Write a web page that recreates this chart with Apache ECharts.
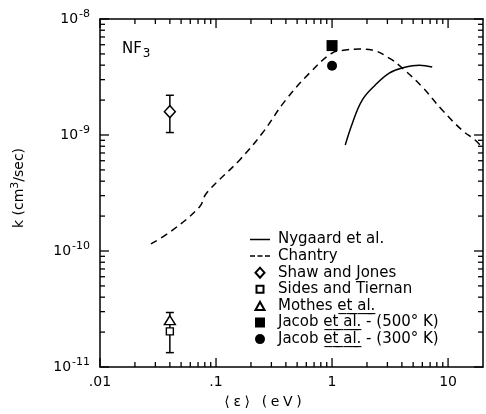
<!DOCTYPE html>
<html>
<head>
<meta charset="utf-8">
<script src="https://cdn.jsdelivr.net/npm/echarts@6/dist/echarts.min.js"></script>
<style>
  html, body { margin: 0; padding: 0; background: #fff; }
  #main { width: 486px; height: 414px; }
</style>
</head>
<body>
<div id="main"></div>
<script>
// Nygaard et al. (solid curve)
var nygaardX = [1.30, 1.50, 1.82, 2.36, 3.11, 4.03, 5.64, 7.3];
var nygaardY = [8.2e-10, 1.27e-9, 2.0e-9, 2.7e-9, 3.42e-9, 3.78e-9, 4.0e-9, 3.86e-9];

// Chantry (dashed curve)
var chantryX = [0.0275, 0.0425, 0.072, 0.083, 0.16, 0.251, 0.398, 0.64, 1.0, 1.30, 1.72, 2.22, 3.11, 4.03, 5.98, 8.9, 13.2, 17.1, 20];
var chantryY = [1.15e-10, 1.52e-10, 2.4e-10, 3.16e-10, 6.1e-10, 1.04e-9, 2.0e-9, 3.42e-9, 5.09e-9, 5.4e-9, 5.5e-9, 5.4e-9, 4.6e-9, 3.78e-9, 2.6e-9, 1.64e-9, 1.1e-9, 9.05e-10, 7.7e-10];

// measured points
var shawX = [0.04], shawY = [1.59e-9];
var sidesX = [0.04], sidesY = [2.03e-11];
var mothesX = [0.04], mothesY = [2.53e-11];
var jacob500X = [1.0], jacob500Y = [5.9e-9];
var jacob300X = [1.0], jacob300Y = [3.95e-9];

// error bars: x, low, high
var errX = [0.04, 0.04];
var errLow = [1.05e-9, 1.33e-11];
var errHigh = [2.2e-9, 2.95e-11];

// axis ranges and tick values
var xMin = 0.01, xMax = 20;
var yMin = 1e-11, yMax = 1e-8;
var xMajor = [0.01, 0.1, 1, 10];
var xMinor = [0.02, 0.03, 0.04, 0.05, 0.06, 0.07, 0.08, 0.09,
  0.2, 0.3, 0.4, 0.5, 0.6, 0.7, 0.8, 0.9, 2, 3, 4, 5, 6, 7, 8, 9];
var yMajor = [1e-11, 1e-10, 1e-9, 1e-8];
var yMinor = [2e-11, 3e-11, 4e-11, 5e-11, 6e-11, 7e-11, 8e-11, 9e-11,
  2e-10, 3e-10, 4e-10, 5e-10, 6e-10, 7e-10, 8e-10, 9e-10,
  2e-9, 3e-9, 4e-9, 5e-9, 6e-9, 7e-9, 8e-9, 9e-9];

var names = ['Nygaard et al.', 'Chantry', 'Shaw and Jones', 'Sides and Tiernan',
  'Mothes et al.', 'Jacob et al. - (500° K)', 'Jacob et al. - (300° K)'];
var icons = [
  'path://M0 0h20v1.5h-20z',
  'path://M0 0h5v1.5h-5zM7.5 0h5v1.5h-5zM15 0h5v1.5h-5z',
  'path://M0 5L4.5 0L9 5L4.5 10z',
  'path://M0 0M10 10M1.5 1.5h7v7h-7z',
  'path://M0 0M10 10M0.5 9L5 1L9.5 9z',
  'path://M0 0h10v10h-10z',
  'circle'
];

function zip(a, b) { return a.map(function (v, i) { return [v, b[i]]; }); }

var ink = '#000';
var font = 'DejaVu Sans';

var chart = echarts.init(document.getElementById('main'));

function axis(pos, isX) {
  return {
    type: 'log', position: pos,
    min: isX ? xMin : yMin, max: isX ? xMax : yMax,
    axisLine: { show: true, lineStyle: { color: ink, width: 1.5 } },
    axisTick: { show: false }, minorTick: { show: false },
    splitLine: { show: false },
    axisLabel: { show: false }
  };
}

var xBottom = axis('bottom', true);
xBottom.axisLabel = {
  show: true, color: ink, fontFamily: font, fontSize: 14, margin: 8,
  formatter: function (v) {
    if (v > 10.5) return '';
    return v < 1 ? String(v).replace('0.', '.') : String(v);
  }
};
var yLeft = axis('left', false);
yLeft.axisLabel = {
  show: true, color: ink, fontFamily: font, margin: 10,
  formatter: function (v) { return '{b|10}{s|' + Math.round(Math.log10(v)) + '}'; },
  rich: {
    b: { fontSize: 14, fontFamily: font, color: ink },
    s: { fontSize: 11, fontFamily: font, color: ink, padding: [0, 0, 9, 1] }
  }
};

// x-axis title, one token per character for the wide letter spacing
var xTitleChars = ['⟨', 'ε', '⟩', ' ', '(', 'e', 'V', ')'];
var xTitle = xTitleChars.map(function (c) { return '{c|' + c + '}'; }).join('');

var textGraphics = [{
  type: 'text', left: 122, top: 42,
  style: {
    text: '{a|NF}{b|3}',
    rich: {
      a: { fontSize: 15, fontFamily: font, fill: ink },
      b: { fontSize: 12, fontFamily: font, fill: ink, padding: [8, 0, 0, 1] }
    }
  }
}, {
  type: 'text', x: 19, y: 188, rotation: Math.PI / 2,
  style: {
    text: '{a|k (cm}{b|3}{a|/sec)}', align: 'center', verticalAlign: 'middle',
    rich: {
      a: { fontSize: 14, fontFamily: font, fill: ink },
      b: { fontSize: 11, fontFamily: font, fill: ink, padding: [0, 0, 8, 0] }
    }
  }
}, {
  type: 'text', x: 263, y: 402,
  style: {
    text: xTitle, align: 'center', verticalAlign: 'middle',
    rich: { c: { fontSize: 14, fontFamily: font, fill: ink, padding: [0, 1.8, 0, 1.8] } }
  }
}];

var option = {
  animation: false,
  grid: { left: 100, top: 19, right: 2, bottom: 47 },
  xAxis: [xBottom, axis('top', true)],
  yAxis: [yLeft, axis('right', false)],
  legend: {
    orient: 'vertical', left: 250, top: 232, padding: 0,
    itemWidth: 20, itemHeight: 10, itemGap: 1.6,
    data: names.map(function (n, i) { return { name: n, icon: icons[i] }; }),
    textStyle: { color: ink, fontFamily: font, fontSize: 15, lineHeight: 14, padding: [0, 0, 0, 3] },
    formatter: function (name) {
      if (name.indexOf('Mothes') === 0 || name.indexOf('Jacob') === 0) {
        // underlined "et al." with combining low lines
        return name.replace('et al.', 'e\u0332t\u0332 \u0332a\u0332l\u0332.\u0332');
      }
      return name;
    }
  },
  graphic: textGraphics,
  series: [{
    name: names[0], type: 'line', data: zip(nygaardX, nygaardY),
    symbol: 'none', smooth: 0.4, clip: true,
    lineStyle: { color: ink, width: 1.5 }, itemStyle: { color: ink }
  }, {
    name: names[1], type: 'line', data: zip(chantryX, chantryY),
    symbol: 'none', smooth: 0.4, clip: true,
    lineStyle: { color: ink, width: 1.5, type: [7, 5] }, itemStyle: { color: ink }
  }, {
    name: 'errors', type: 'custom', z: 1, silent: true,
    data: errX.map(function (x, i) { return [x, errLow[i], errHigh[i]]; }),
    renderItem: function (params, api) {
      var lo = api.coord([api.value(0), api.value(1)]);
      var hi = api.coord([api.value(0), api.value(2)]);
      var st = { stroke: ink, lineWidth: 1.5 };
      return {
        type: 'group',
        children: [
          { type: 'line', shape: { x1: lo[0], y1: lo[1], x2: hi[0], y2: hi[1] }, style: st },
          { type: 'line', shape: { x1: lo[0] - 4, y1: lo[1], x2: lo[0] + 4, y2: lo[1] }, style: st },
          { type: 'line', shape: { x1: hi[0] - 4, y1: hi[1], x2: hi[0] + 4, y2: hi[1] }, style: st }
        ]
      };
    }
  }, {
    name: names[2], type: 'scatter', z: 3, data: zip(shawX, shawY),
    symbol: 'diamond', symbolSize: [11, 12],
    itemStyle: { color: '#fff', borderColor: ink, borderWidth: 1.4, opacity: 1 }
  }, {
    name: names[3], type: 'scatter', z: 3, data: zip(sidesX, sidesY),
    symbol: 'rect', symbolSize: 7,
    itemStyle: { color: '#fff', borderColor: ink, borderWidth: 1.4, opacity: 1 }
  }, {
    name: names[4], type: 'scatter', z: 3, data: zip(mothesX, mothesY),
    symbol: 'triangle', symbolSize: [11, 9],
    itemStyle: { color: '#fff', borderColor: ink, borderWidth: 1.4, opacity: 1 }
  }, {
    name: names[5], type: 'scatter', z: 3, data: zip(jacob500X, jacob500Y),
    symbol: 'rect', symbolSize: 11,
    itemStyle: { color: ink, opacity: 1 }
  }, {
    name: names[6], type: 'scatter', z: 3, data: zip(jacob300X, jacob300Y),
    symbol: 'circle', symbolSize: 10,
    itemStyle: { color: ink, opacity: 1 }
  }]
};

chart.setOption(option);

// inward frame ticks, placed through the chart's own log scales
var px = function (pt) { return chart.convertToPixel({ xAxisIndex: 0, yAxisIndex: 0 }, pt); };
var tickGraphics = [];
function addLine(x1, y1, x2, y2) {
  tickGraphics.push({ type: 'line', silent: true, z: 10,
    shape: { x1: x1, y1: y1, x2: x2, y2: y2 },
    style: { stroke: ink, lineWidth: 1.3 } });
}
function xTicks(vals, len) {
  vals.forEach(function (v) {
    var b = px([v, yMin]), t = px([v, yMax]);
    addLine(b[0], b[1], b[0], b[1] - len);
    addLine(t[0], t[1], t[0], t[1] + len);
  });
}
function yTicks(vals, len) {
  vals.forEach(function (v) {
    var l = px([xMin, v]), r = px([xMax, v]);
    addLine(l[0], l[1], l[0] + len, l[1]);
    addLine(r[0], r[1], r[0] - len, r[1]);
  });
}
xTicks(xMajor, 9); xTicks(xMinor, 5);
yTicks(yMajor, 9); yTicks(yMinor, 5);
chart.setOption({ graphic: textGraphics.concat(tickGraphics) });
</script>
</body>
</html>
